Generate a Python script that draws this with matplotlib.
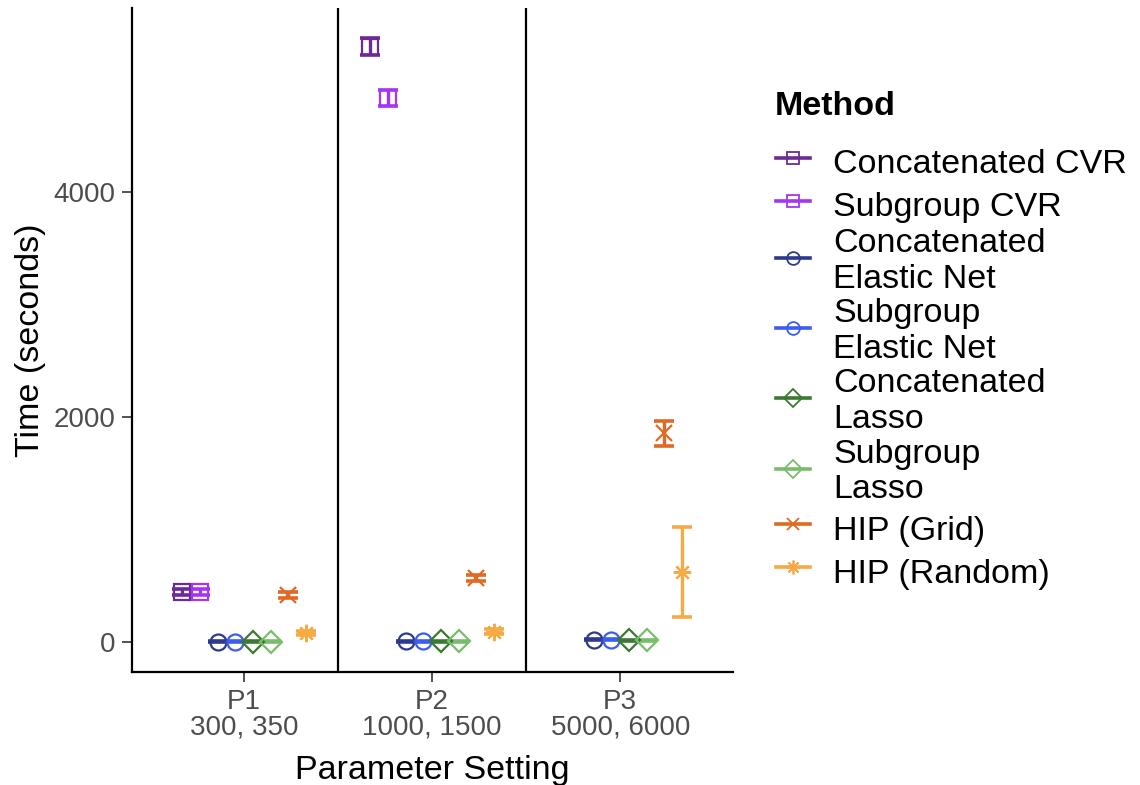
import numpy as np
import matplotlib
matplotlib.use("Agg")
import matplotlib.pyplot as plt
from matplotlib.lines import Line2D

plt.rcParams["font.family"] = ["Liberation Sans", "DejaVu Sans"]

# data
settings = ["P1\n300, 350", "P2\n1000, 1500", "P3\n5000, 6000"]
methods = ["Concatenated CVR", "Subgroup CVR", "Concatenated\nElastic Net",
           "Subgroup\nElastic Net", "Concatenated\nLasso", "Subgroup\nLasso",
           "HIP (Grid)", "HIP (Random)"]
# mean time per setting (nan = not run)
time_mean = [
    [445, 5290, np.nan],
    [445, 4835, np.nan],
    [2, 4, 20],
    [2, 4, 20],
    [2, 4, 15],
    [2, 4, 15],
    [418, 570, 1855],
    [80, 92, 625],
]
time_err = [
    [25, 75, np.nan],
    [25, 70, np.nan],
    [3, 3, 5],
    [3, 3, 5],
    [3, 3, 5],
    [3, 3, 5],
    [30, 28, 110],
    [20, 22, 400],
]

colors = ["#6b2a94", "#a534f5", "#2c3a8e", "#3c5cf2", "#3b7a30", "#79bd6c",
          "#e06a25", "#f5aa45"]
markers = ["s", "s", "o", "o", "D", "D", "x", (8, 2, 0)]
msizes = [11, 11, 11.5, 11.5, 11.5, 11.5, 11, 12.5]

fig = plt.figure(figsize=(11.4, 7.85), dpi=100)
ax = fig.add_axes([0.1158, 0.144, 0.643 - 0.1158, 0.99 - 0.144])

x = np.arange(1, 4)
dodge = 0.75 / len(methods)
for i, m in enumerate(methods):
    xs = x + (i - 3.5) * dodge
    ax.errorbar(xs, time_mean[i], yerr=time_err[i], fmt="none",
                ecolor=colors[i], elinewidth=2.4, capsize=7, capthick=2.6, zorder=3)
    ax.plot(xs, time_mean[i], linestyle="none", marker=markers[i], ms=msizes[i],
            mfc="none", mec=colors[i], mew=1.6, zorder=4)

for xv in [1.5, 2.5]:
    ax.axvline(xv, color="black", lw=1.6, zorder=1)

ax.set_xlim(0.404, 3.6)
ax.set_ylim(-267, 5636)
ax.set_xticks(x)
ax.set_xticklabels(settings, fontsize=20, color="#4d4d4d", linespacing=1.0)
ax.set_yticks([0, 2000, 4000])
ax.set_yticklabels(["0", "2000", "4000"], fontsize=20, color="#4d4d4d")
ax.tick_params(length=7, width=1.2, color="#333333", pad=5)
for s in ["top", "right"]:
    ax.spines[s].set_visible(False)
for s in ["left", "bottom"]:
    ax.spines[s].set_linewidth(1.6)
ax.set_xlabel("Parameter Setting", fontsize=24.5, labelpad=10)
ax.set_ylabel("Time (seconds)", fontsize=24.5, labelpad=5)

handles = [Line2D([0], [0], color=colors[i], lw=2.6, marker=markers[i],
                  ms=msizes[i] * 0.8, mfc="none", mec=colors[i], mew=1.3)
           for i in range(len(methods))]
leg = fig.legend(handles, methods, loc="upper left", bbox_to_anchor=(0.666, 0.8405),
                 frameon=False, fontsize=24.5, handlelength=1.0, handleheight=1.41,
                 labelspacing=0.1, handletextpad=0.68, borderpad=0.0)
for t in leg.get_texts():
    t.set_linespacing(1.2)
fig.text(0.680, 0.8637, "Method", fontsize=24.5, fontweight="bold",
         ha="left", va="center")

fig.savefig("out.png", dpi=100)
